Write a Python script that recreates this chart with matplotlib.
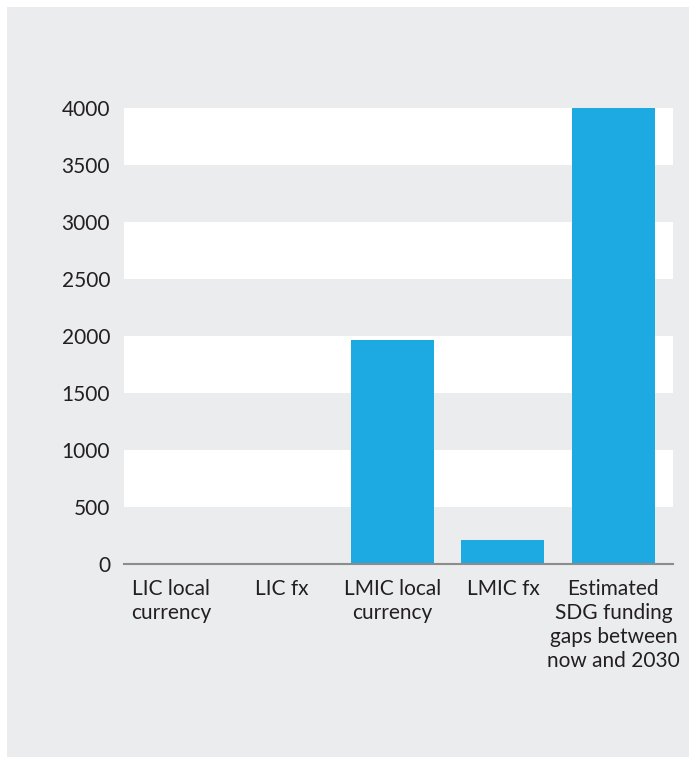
import matplotlib.pyplot as plt
from matplotlib.patches import Rectangle

# data
categories = ['LIC local\ncurrency', 'LIC fx', 'LMIC local\ncurrency', 'LMIC fx',
              'Estimated\nSDG funding\ngaps between\nnow and 2030']
values = [0, 0, 1965, 210, 4000]
yticks = [0, 500, 1000, 1500, 2000, 2500, 3000, 3500, 4000]

BLUE = '#1DA9E1'
PANEL = '#EBECEE'
TEXT = '#231F20'

plt.rcParams['font.family'] = ['Lato', 'DejaVu Sans']

fig = plt.figure(figsize=(6.89, 7.63), dpi=100, facecolor='white')
# grey card behind the chart
fig.patches.append(Rectangle((7 / 689, 6 / 763), 1, 1 - 13 / 763,
                             transform=fig.transFigure, facecolor=PANEL,
                             edgecolor='none', zorder=-5))

ax = fig.add_axes([124 / 689, 1 - 564 / 763, 549 / 689, 456 / 763])
ax.set_zorder(1)
ax.set_facecolor('none')

# alternating white bands
for lo in yticks[1::2]:
    ax.axhspan(lo, lo + 500, color='white', zorder=0, lw=0)

x = range(len(categories))
ax.bar(x, values, width=0.75, color=BLUE, zorder=2)

ax.set_xlim(-0.43, 4.54)
ax.set_ylim(0, 4000)
ax.set_yticks(yticks)
ax.set_xticks(list(x))
ax.set_xticklabels(categories, fontsize=15, color=TEXT, linespacing=1.25,
                   va='top')
ax.tick_params(axis='y', length=0, pad=10, labelsize=15, labelcolor=TEXT)
ax.tick_params(axis='x', length=0, pad=11)

for s in ['top', 'right', 'left']:
    ax.spines[s].set_visible(False)
ax.spines['bottom'].set_color('#8C8C8C')
ax.spines['bottom'].set_linewidth(1.5)
ax.spines['bottom'].set_zorder(3)

fig.savefig('out.png', dpi=100, facecolor='white')
